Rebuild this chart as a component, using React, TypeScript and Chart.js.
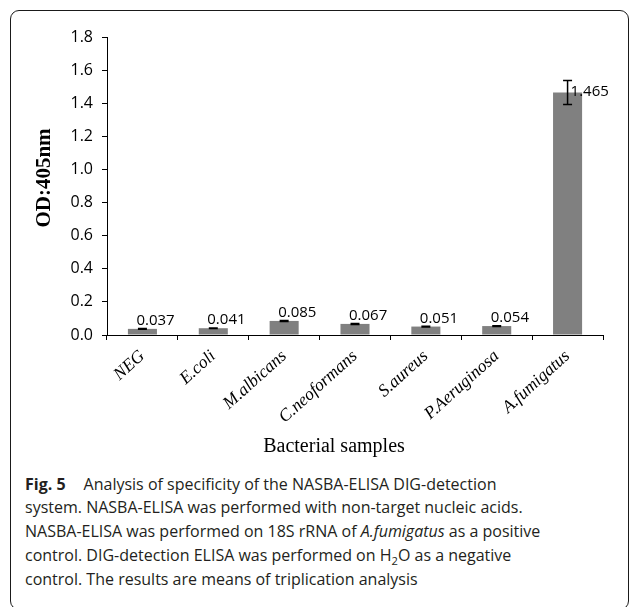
import React, { useEffect, useRef } from 'react';
import { Chart, registerables } from 'chart.js';

Chart.register(...registerables);

const categories = ['NEG', 'E.coli', 'M.albicans', 'C.neoformans', 'S.aureus', 'P.Aeruginosa', 'A.fumigatus'];
const odValues = [0.037, 0.041, 0.085, 0.067, 0.051, 0.054, 1.465];
const odErrors = [0.003, 0.002, 0.003, 0.003, 0.002, 0.002, 0.073];
const yMin = 0;
const yMax = 1.8;
const yStep = 0.2;
const yTitle = 'OD:405nm';
const xTitle = 'Bacterial samples';

const SERIF = '"Liberation Serif", "Times New Roman", serif';
const SANS = '"Open Sans", "Noto Sans", sans-serif';

const overlayPlugin = {
  id: 'overlay',
  afterDatasetsDraw(chart: any) {
    const ctx = chart.ctx;
    const meta = chart.getDatasetMeta(0);
    const y = chart.scales.y;
    ctx.save();
    // error bars
    ctx.strokeStyle = '#000';
    ctx.lineWidth = 1.5;
    meta.data.forEach((bar: any, i: number) => {
      const v = odValues[i];
      const e = odErrors[i];
      const yTop = y.getPixelForValue(v + e);
      const yBot = y.getPixelForValue(v - e);
      const x = bar.x;
      const cap = 4.5;
      ctx.beginPath();
      ctx.moveTo(x, yTop);
      ctx.lineTo(x, yBot);
      ctx.moveTo(x - cap, yTop);
      ctx.lineTo(x + cap, yTop);
      ctx.moveTo(x - cap, yBot);
      ctx.lineTo(x + cap, yBot);
      ctx.stroke();
    });
    // value labels
    ctx.fillStyle = '#000';
    ctx.font = '15px ' + SANS;
    ctx.textAlign = 'left';
    ctx.textBaseline = 'alphabetic';
    meta.data.forEach((bar: any, i: number) => {
      const v = odValues[i];
      const txt = v.toFixed(3);
      const yv = y.getPixelForValue(v);
      if (v > 0.5) {
        ctx.fillText(txt, bar.x + 3, yv + 4);
      } else {
        ctx.fillText(txt, bar.x - 6, yv - 4);
      }
    });
    ctx.restore();
  },
  afterDraw(chart: any) {
    const ctx = chart.ctx;
    const area = chart.chartArea;
    ctx.save();
    ctx.fillStyle = '#000';
    ctx.textAlign = 'center';
    ctx.textBaseline = 'middle';
    ctx.font = 'bold 21px ' + SERIF;
    ctx.translate(45, (area.top + area.bottom) / 2 - 8);
    ctx.rotate(-Math.PI / 2);
    ctx.fillText(yTitle, 0, 0);
    ctx.restore();
    ctx.save();
    ctx.fillStyle = '#000';
    ctx.textAlign = 'center';
    ctx.textBaseline = 'middle';
    ctx.font = '20px ' + SERIF;
    ctx.fillText(xTitle, (area.left + area.right) / 2 - 21, area.bottom + 112);
    ctx.restore();
  },
};

export default function App() {
  const ref = useRef<HTMLCanvasElement | null>(null);

  useEffect(() => {
    if (!ref.current) return;
    const chart = new Chart(ref.current, {
      type: 'bar',
      data: {
        labels: categories,
        datasets: [
          {
            data: odValues,
            backgroundColor: '#808080',
            borderWidth: 0,
            barPercentage: 0.41,
            categoryPercentage: 1,
          },
        ],
      },
      options: {
        animation: false,
        responsive: false,
        maintainAspectRatio: false,
        devicePixelRatio: 1,
        layout: { padding: { left: 0, top: 37, right: 26, bottom: 0 } },
        plugins: {
          legend: { display: false },
          tooltip: { enabled: false },
          title: { display: false },
        },
        scales: {
          y: {
            min: yMin,
            max: yMax,
            ticks: {
              stepSize: yStep,
              color: '#000',
              font: { family: SANS, size: 16 },
              padding: 9,
              callback: (v: any) => Number(v).toFixed(1),
            },
            grid: { drawOnChartArea: false, drawTicks: true, tickLength: 5, color: '#000' },
            border: { color: '#000', width: 1 },
            afterFit: (s: any) => {
              s.width = 107;
            },
          },
          x: {
            ticks: {
              color: '#000',
              autoSkip: false,
              minRotation: 42,
              maxRotation: 42,
              padding: 6,
              font: { family: SERIF, size: 17.5, style: 'italic' },
            },
            grid: { drawOnChartArea: false, drawTicks: true, tickLength: 5, color: '#000', offset: true },
            border: { color: '#000', width: 1 },
            afterFit: (s: any) => {
              s.height = 135;
            },
          },
        },
      },
      plugins: [overlayPlugin],
    });
    return () => chart.destroy();
  }, []);

  return (
    <div style={{ position: 'absolute', left: 0, top: 0, width: 629, height: 607, overflow: 'hidden', background: '#fff' }}>
      <div
        style={{
          position: 'absolute',
          left: 10,
          top: 10,
          width: 619,
          height: 600,
          boxSizing: 'border-box',
          border: '1.5px solid #1a1a1a',
          borderRadius: 9,
        }}
      />
      <canvas ref={ref} width={629} height={470} style={{ position: 'absolute', left: 0, top: 0, width: 629, height: 470 }} />
      <div
        style={{
          position: 'absolute',
          left: 25,
          top: 472.5,
          width: 604,
          whiteSpace: 'nowrap',
          fontFamily: SANS,
          fontSize: 16,
          lineHeight: '23.75px',
          color: '#231f20',
        }}
      >
        <span style={{ fontWeight: 'bold', marginRight: 18 }}>Fig. 5</span>
        Analysis of specificity of the NASBA-ELISA DIG-detection
        <br />
        system. NASBA-ELISA was performed with non-target nucleic acids.
        <br />
        NASBA-ELISA was performed on 18S rRNA of <i>A.fumigatus</i> as a positive
        <br />
        control. DIG-detection ELISA was performed on H<sub style={{ fontSize: '70%', lineHeight: 0 }}>2</sub>O as a negative
        <br />
        control. The results are means of triplication analysis
      </div>
    </div>
  );
}
